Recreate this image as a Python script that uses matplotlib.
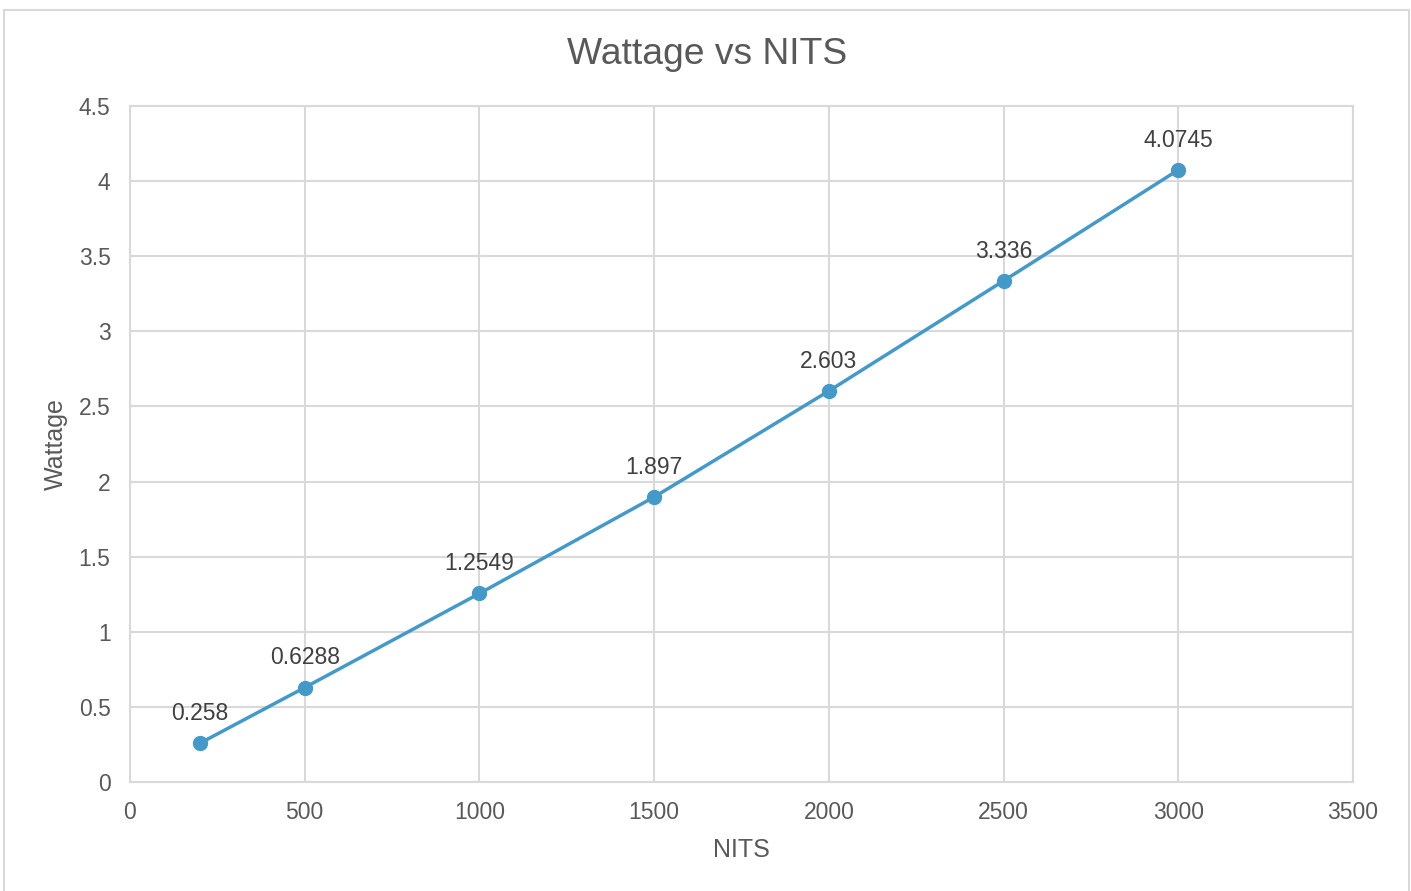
import matplotlib.pyplot as plt
from matplotlib.patches import Rectangle

plt.rcParams['font.family'] = ['Liberation Sans', 'DejaVu Sans']

nits = [200, 500, 1000, 1500, 2000, 2500, 3000]
wattage = [0.258, 0.6288, 1.2549, 1.897, 2.603, 3.336, 4.0745]
labels = ['0.258', '0.6288', '1.2549', '1.897', '2.603', '3.336', '4.0745']
x_ticks = [0, 500, 1000, 1500, 2000, 2500, 3000, 3500]
y_ticks = [0, 0.5, 1, 1.5, 2, 2.5, 3, 3.5, 4, 4.5]
y_ticklabels = ['0', '0.5', '1', '1.5', '2', '2.5', '3', '3.5', '4', '4.5']

text_col = '#595959'
grid_col = '#d9d9d9'
line_col = '#4599c9'

fig = plt.figure(figsize=(14.11, 8.91), dpi=100)
fig.patches.append(Rectangle((4 / 1411, -0.01), 1405 / 1411, 1 - 10 / 891 + 0.01,
                             transform=fig.transFigure, fill=False,
                             edgecolor=grid_col, linewidth=1.5))
ax = fig.add_axes([130 / 1411, 1 - 782 / 891, (1353 - 130) / 1411, (782 - 106) / 891])

ax.plot(nits, wattage, color=line_col, linewidth=2.5, marker='o', markersize=10,
        zorder=3)
for x, y, s in zip(nits, wattage, labels):
    ax.annotate(s, (x, y), xytext=(0, 13), textcoords='offset points',
                ha='center', va='bottom', fontsize=16.5, color='#404040')

ax.set_xlim(0, 3500)
ax.set_ylim(0, 4.5)
ax.set_xticks(x_ticks)
ax.set_yticks(y_ticks)
ax.set_yticklabels(y_ticklabels)
ax.tick_params(length=0, labelsize=16.5, labelcolor=text_col)
ax.tick_params(axis='x', pad=14)
ax.tick_params(axis='y', pad=14)
ax.grid(True, color=grid_col, linewidth=1.5)
ax.set_axisbelow(True)
for sp in ax.spines.values():
    sp.set_color(grid_col)
    sp.set_linewidth(1.5)

fig.text(707 / 1411, 1 - 54 / 891, 'Wattage vs NITS', fontsize=26.8, color=text_col,
         ha='center', va='center')
ax.set_xlabel('NITS', fontsize=18, color=text_col, labelpad=10)
ax.set_ylabel('Wattage', fontsize=18, color=text_col, labelpad=8)

fig.savefig('out.png', dpi=100)
